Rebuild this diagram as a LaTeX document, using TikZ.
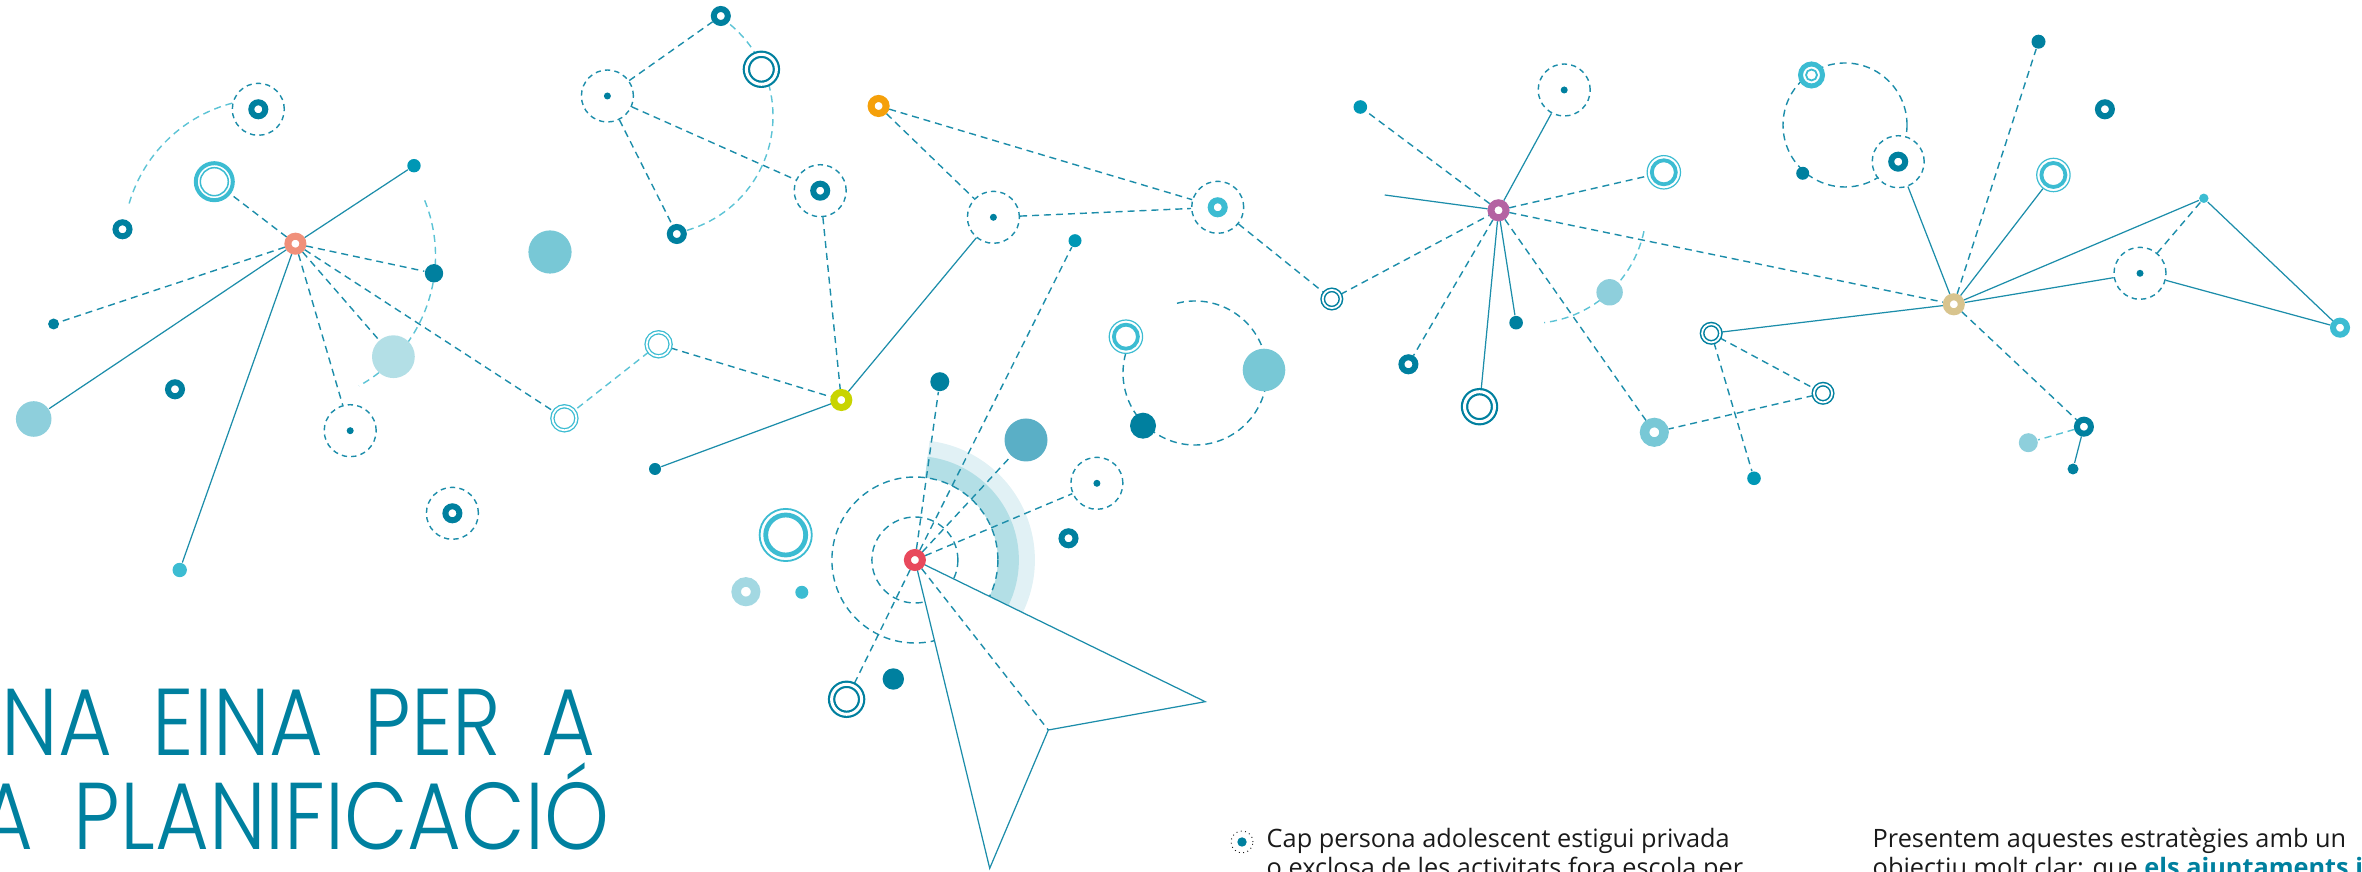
\documentclass[tikz,border=0pt]{standalone}
\usepackage{fontspec}
\setmainfont{Open Sans}
\newfontfamily\titlefont{Poppins Light}[FakeStretch=0.87, WordSpace=1.8]
\usepackage{tikz}
\pgfdeclarelayer{bg}
\pgfsetlayers{bg,main}

\definecolor{darkC}{HTML}{00809F}
\definecolor{midC}{HTML}{0097B5}
\definecolor{lightC}{HTML}{3CBCD2}
\definecolor{lineC}{HTML}{1C8DAA}
\definecolor{arcC}{HTML}{5CC3D5}
\definecolor{paleC}{HTML}{8ECFDC}
\definecolor{paleB}{HTML}{B3DFE6}
\definecolor{skyC}{HTML}{78C8D6}
\definecolor{steelC}{HTML}{5AAFC6}
\definecolor{donutL}{HTML}{A3D8E2}
\definecolor{bandD}{HTML}{B3DFE6}
\definecolor{bandL}{HTML}{E1F1F5}
\definecolor{hubO}{HTML}{F0907A}
\definecolor{hubY}{HTML}{C8D400}
\definecolor{hubA}{HTML}{F5A00A}
\definecolor{hubR}{HTML}{E8495C}
\definecolor{hubP}{HTML}{B462A2}
\definecolor{hubG}{HTML}{D8C48E}
\definecolor{textC}{HTML}{1A1A1A}

\tikzset{
    sline/.style={draw=lineC, line width=0.35pt},
    dline/.style={draw=lineC, line width=0.4pt, dash pattern=on 2pt off 1.4pt},
    lline/.style={draw=arcC, line width=0.4pt, dash pattern=on 2pt off 1.4pt},
    hub/.style={circle, draw=#1, fill=white, line width=0.7mm, minimum size=1.5mm, inner sep=0pt},
    donut/.style={circle, draw=#1, fill=white, line width=0.6mm, minimum size=1.4mm, inner sep=0pt},
    bigdonut/.style={circle, draw=#1, fill=white, line width=0.95mm, minimum size=1.95mm, inner sep=0pt},
    dot/.style={circle, fill=#1, inner sep=0pt},
    dcirc/.style={circle, draw=lineC, fill=white, line width=0.4pt, dash pattern=on 1.5pt off 1.2pt,
        minimum size=5.2mm, inner sep=0pt,
        path picture={\fill[darkC] (path picture bounding box.center) circle (0.35mm);}},
    dcring/.style={circle, draw=lineC, fill=white, line width=0.4pt, dash pattern=on 1.5pt off 1.2pt,
        minimum size=5.2mm, inner sep=0pt,
        path picture={\draw[draw=#1, solid, line width=0.6mm] (path picture bounding box.center) circle (0.7mm);}},
    dringL/.style={circle, draw=darkC, double=white, line width=0.22mm, double distance=0.3mm,
        fill=white, minimum size=3mm, inner sep=0pt},
    dringS/.style={circle, draw=darkC, double=white, line width=0.15mm, double distance=0.18mm,
        fill=white, minimum size=1.82mm, inner sep=0pt},
    dringT/.style={circle, draw=lightC, double=white, line width=0.13mm, double distance=0.18mm,
        fill=white, minimum size=2.4mm, inner sep=0pt},
    thickring/.style={circle, draw=lightC, fill=white, line width=0.4mm, minimum size=3.7mm, inner sep=0pt,
        path picture={\draw[draw=lightC, solid, line width=0.15mm] (path picture bounding box.center) circle (1.4mm);}},
    tinyring/.style={circle, draw=lightC, fill=white, line width=0.5mm, minimum size=2.2mm, inner sep=0pt,
        path picture={\draw[draw=lightC, solid, line width=0.18mm] (path picture bounding box.center) circle (0.55mm);}},
    thinring/.style={circle, draw=lightC, fill=white, line width=0.12mm, minimum size=3.34mm, inner sep=0pt,
        path picture={\draw[draw=lightC, solid, line width=0.38mm] (path picture bounding box.center) circle (1.2mm);}},
    thinringbig/.style={circle, draw=lightC, fill=white, line width=0.18mm, minimum size=5.22mm, inner sep=0pt,
        path picture={\draw[draw=lightC, solid, line width=0.48mm] (path picture bounding box.center) circle (2mm);}},
    bullet/.style={circle, draw=black, densely dotted, line width=0.25pt, minimum size=2.2mm, inner sep=0pt,
        path picture={\fill[darkC] (path picture bounding box.center) circle (0.47mm);}},
    title/.style={font=\titlefont\fontsize{27}{27}\selectfont, text=darkC, inner sep=0pt},
    body/.style={font=\fontsize{7.2}{8.5}\selectfont, text=textC, inner sep=0pt}
}

\begin{document}
\begin{tikzpicture}[x=0.1mm, y=-0.1mm]
        \useasboundingbox (0,0) rectangle (2362,872);
        \clip (0,0) rectangle (2362,872);

        % hubs
        \foreach \n/\x/\y/\c in {hO/295.4/243.7/hubO, hY/841.3/400/hubY, hA/878.6/106/hubA,
                                 hR/914.9/560/hubR, hP/1498.5/210.3/hubP, hG/1953.8/304.3/hubG}
        {
            \node[hub=\c] (\n) at (\x,\y) {};
        }
        % dashed circles
        \foreach \n/\x/\y in {c15/350.2/430.7, c22/607.4/96, c28/993.4/217.3,
                              c45/1096.9/483.3, c56/1564.2/90, c77/2140/273.3}
        {
            \node[dcirc] (\n) at (\x,\y) {};
        }
        \foreach \n/\x/\y/\c in {c1/258.3/109.3/darkC, c25/820.2/190.7/darkC, c34/1217.7/207.3/lightC,
                                 c71/1898.2/161.7/darkC, c79/452.4/513.3/darkC}
        {
            \node[dcring=\c] (\n) at (\x,\y) {};
        }
        % rings
        \foreach \n/\x/\y in {r21/761.4/69.3, r47/846.6/699.3, r62/1479.5/406.7}
        {
            \node[dringL] (\n) at (\x,\y) {};
        }
        \foreach \n/\x/\y in {r36/1331.8/299, r66/1711.2/333.3, r67/1823/393.3}
        {
            \node[dringS] (\n) at (\x,\y) {};
        }
        \foreach \n/\x/\y in {r17/564.4/418.3, r30/658.6/344.3}
        {
            \node[dringT] (\n) at (\x,\y) {};
        }
        \foreach \n/\x/\y in {r40/1125.9/336.7, r58/1663.8/172.3, r74/2053.4/175}
        {
            \node[thinring] (\n) at (\x,\y) {};
        }
        \node[thickring] (r3) at (214.3,181.7) {};
        \node[tinyring] (r70) at (1811.5,75) {};
        \node[thinringbig] (r49) at (785.7,535) {};
        % donuts
        \foreach \n/\x/\y/\c in {d4/122.5/229.3/darkC, d18/175/389.3/darkC, d20/720.8/16/darkC,
                                 d26/676.8/234/darkC, d52/1068.5/538.3/darkC, d61/1408.4/364.3/darkC,
                                 d73/2104.9/109.3/darkC, d78/2083.9/426.7/darkC, d76/2340/327.7/lightC}
        {
            \node[donut=\c] (\n) at (\x,\y) {};
        }
        \node[bigdonut=donutL] (d50) at (745.9,591.7) {};
        \node[bigdonut=skyC] (d64) at (1654.3,432.3) {};
        % dots and discs
        \foreach \n/\x/\y/\s/\c in {p5/414/165.7/1.34/midC, p10/434/273.3/1.84/darkC, p12/53.6/324/1.1/darkC,
                                    p14/179.7/570/1.44/lightC, p29/655/469/1.2/darkC, p37/1075/240.7/1.3/midC,
                                    p38/939.8/381.7/1.9/darkC, p48/893.3/679/2.14/darkC, p51/801.8/592.3/1.3/lightC,
                                    p53/1143/425.7/2.6/darkC, p55/1360.3/107/1.36/midC, p63/1516.1/322.7/1.36/darkC,
                                    p69/1754/478.3/1.36/midC, p71/1802.7/173.3/1.3/darkC, p72/2038.5/41.7/1.4/darkC,
                                    p76/2203.8/198.3/0.94/lightC, p78/2073/469/1.1/darkC,
                                    b13/33.7/419/3.56/paleC, b16/393.4/356.7/4.28/paleB, b19/550/252/4.32/skyC,
                                    b39/1026/440/4.3/steelC, b41/1264/370/4.26/skyC, b65/1609.6/292.3/2.64/paleC,
                                    b78/2028.3/442.7/1.9/paleC}
        {
            \node[dot=\c, minimum size=\s mm] (\n) at (\x,\y) {};
        }
        \coordinate (e57) at (1384.7,195);
        \coordinate (k1) at (1205.2,701.7);
        \coordinate (k2) at (1048.3,730);
        \coordinate (k3) at (989.7,868.3);

        % texts
        \node[title, anchor=base west] (title1) at (1,756) {NA EINA PER A};
        \node[title, anchor=base east] (title2) at (610,850) {A PLANIFICACIÓ};
        \node[bullet] (bul) at (1242,842) {};
        \node[body, anchor=base west] (txt1) at (1266,847.5) {Cap persona adolescent estigui privada};
        \node[body, anchor=base west] (txt2) at (1266,877) {o exclosa de les activitats fora escola per};
        \node[body, anchor=base west] (txt3) at (1872,847.5) {Presentem aquestes estratègies amb un};
        \node[body, anchor=base west] (txt4) at (1872,877) {objectiu molt clar: que \textcolor{darkC}{\bfseries els ajuntaments i}};

        \begin{pgfonlayer}{bg}
        % band and rings round the red hub
        \fill[bandL] ([shift={(-83:83)}]hR.center) -- ([shift={(-83:120)}]hR.center)
            arc[start angle=-83, end angle=26, radius=120] -- ([shift={(26:83)}]hR.center)
            arc[start angle=26, end angle=-83, radius=83] -- cycle;
        \fill[bandD] ([shift={(-83:83)}]hR.center) -- ([shift={(-83:104)}]hR.center)
            arc[start angle=-83, end angle=26, radius=104] -- ([shift={(26:83)}]hR.center)
            arc[start angle=26, end angle=-83, radius=83] -- cycle;
        \draw[dline] (hR.center) circle (83);
        \draw[dline] (hR.center) circle (43);
        \filldraw[sline, fill=white] (hR.center) -- (k1) -- (k2) -- (k3) -- cycle;

        \draw[lline] (269.3,244.4) ++(-100:146) arc[start angle=-100, end angle=-164, radius=146];
        \draw[lline] (287,256) ++(-22:148.5) arc[start angle=-22, end angle=61, radius=148.5];
        \draw[lline] (654,116) ++(-56:119) arc[start angle=-56, end angle=79, radius=119];
        \draw[lline] (1530,207) ++(12:116.5) arc[start angle=12, end angle=83, radius=116.5];
        \draw[dline] (1195,373) ++(-104.5:72) arc[start angle=-104.5, end angle=208, radius=72];
        \draw[dline] (1845,125) circle (62);

        \draw[dline] (hO) -- (r3);
        \draw[dline] (hO) -- (p10);
        \draw[dline] (hO) -- (p12);
        \draw[dline] (hO) -- (c15);
        \draw[dline] (hO) -- (b16);
        \draw[dline] (hO) -- (r17);
        \draw[sline] (hO) -- (p5);
        \draw[sline] (hO) -- (b13);
        \draw[sline] (hO) -- (p14);

        \draw[dline] (c22) -- (d20);
        \draw[dline] (c22) -- (c25);
        \draw[dline] (c22) -- (d26);
        \draw[dline] (c25) -- (hY);
        \draw[dline] (r30) -- (hY);
        \draw[lline] (r30) -- (r17);
        \draw[sline] (hY) -- (c28);
        \draw[sline] (hY) -- (p29);

        \draw[dline] (hA) -- (c28);
        \draw[dline] (hA) -- (c34);
        \draw[dline] (c28) -- (c34);
        \draw[dline] (c34) -- (r36);

        \draw[dline] (hR) -- (p38);
        \draw[dline] (hR) -- (p37);
        \draw[dline] (hR) -- (b39);
        \draw[dline] (hR) -- (c45);
        \draw[dline] (hR) -- (r47);
        \draw[dline] (hR) -- (k2);

        \draw[dline] (r36) -- (hP);
        \draw[dline] (hP) -- (p55);
        \draw[dline] (hP) -- (r58);
        \draw[dline] (hP) -- (hG);
        \draw[dline] (hP) -- (d61);
        \draw[dline] (hP) -- (d64);
        \draw[sline] (hP) -- (c56);
        \draw[sline] (hP) -- (e57);
        \draw[sline] (hP) -- (r62);
        \draw[sline] (hP) -- (p63);

        \draw[dline] (r66) -- (r67);
        \draw[dline] (r66) -- (p69);
        \draw[dline] (r67) -- (d64);
        \draw[sline] (hG) -- (r66);
        \draw[sline] (hG) -- (r74);
        \draw[sline] (hG) -- (c71);
        \draw[sline] (hG) -- (p76);
        \draw[sline] (hG) -- (c77);
        \draw[dline] (hG) -- (p72);
        \draw[dline] (hG) -- (d78);
        \draw[dline] (p76) -- (c77);
        \draw[sline] (p76) -- (d76);
        \draw[sline] (c77) -- (d76);
        \draw[sline] (d78) -- (p78);
        \draw[lline] (d78) -- (b78);
        \end{pgfonlayer}
\end{tikzpicture}
\end{document}
